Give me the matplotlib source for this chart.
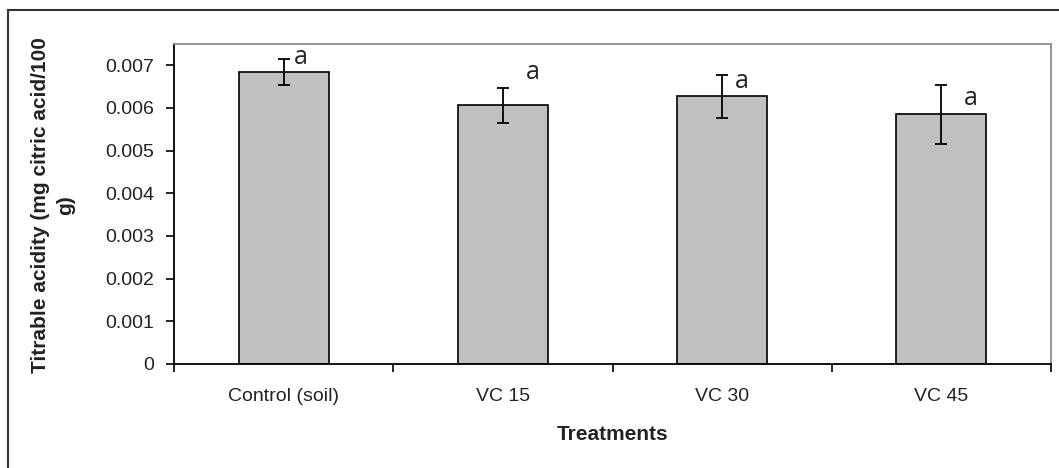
import numpy as np
import matplotlib
matplotlib.use("Agg")
import matplotlib.pyplot as plt
from matplotlib.patches import Rectangle

# values
treatments = ['Control (soil)', 'VC 15', 'VC 30', 'VC 45']
acidity = [0.00685, 0.00606, 0.00627, 0.00585]
acidity_err = [0.00030, 0.00041, 0.00050, 0.00070]
letters = ['a', 'a', 'a', 'a']
# offset of each letter from the top of its error bar (pixels)
letter_dx = [17, 30, 20, 29]
letter_dy = [1, 15, -6, -14]

plt.rcParams['font.family'] = ['Liberation Sans', 'DejaVu Sans']

fig = plt.figure(figsize=(10.59, 4.68), dpi=100)
ax = fig.add_axes([174/1059, 1 - 364/468, (1051 - 174)/1059, (364 - 44)/468])

x = np.arange(len(treatments))
ax.bar(x, acidity, width=0.41, color='#c0c0c0', edgecolor='black', linewidth=1.2, zorder=2)
ax.errorbar(x, acidity, yerr=acidity_err, fmt='none', ecolor='black',
            elinewidth=1.3, capsize=4.5, capthick=1.3, zorder=3)

for i, lab in enumerate(letters):
	ax.annotate(lab, xy=(x[i], acidity[i] + acidity_err[i]),
	            xytext=(letter_dx[i], letter_dy[i]), textcoords='offset pixels',
	            ha='center', va='center', fontsize=18, family='Open Sans', color='#222222')

ax.set_xlim(-0.5, len(treatments) - 0.5)
ax.set_ylim(0, 0.0075)
ax.set_yticks(np.arange(0, 0.0071, 0.001))
ax.set_yticklabels(['0'] + ['%.3f' % v for v in np.arange(0.001, 0.0071, 0.001)])
ax.set_xticks(x)
ax.set_xticklabels(treatments)
ax.set_xticks(np.arange(-0.5, len(treatments)), minor=True)
ax.tick_params(axis='x', which='major', length=0, pad=17, labelsize=14, labelcolor='#222222')
ax.tick_params(axis='x', which='minor', length=6, width=1.2, direction='out')
ax.tick_params(axis='y', length=6, width=1.2, direction='out', pad=8, labelsize=14, labelcolor='#222222')

for s in ['left', 'bottom']:
	ax.spines[s].set_linewidth(1.3)
	ax.spines[s].set_color('black')
for s in ['top', 'right']:
	ax.spines[s].set_linewidth(1.3)
	ax.spines[s].set_color('#8c8c8c')

fig.text(613/1059, 1 - 435/468, 'Treatments', ha='center', va='center',
         fontsize=15, fontweight='bold', color='#222222')
fig.text(53/1059, 1 - 205/468, 'Titrable acidity (mg citric acid/100\ng)', rotation=90,
         ha='center', va='center', multialignment='center', linespacing=1.35,
         fontsize=15, fontweight='bold', color='#222222')

# outer chart border (cropped on the right and bottom)
fig.patches.append(Rectangle((8/1059, -0.05), 1.2, 1 - 10/468 + 0.05, transform=fig.transFigure,
                             fill=False, edgecolor='#333333', linewidth=1.5))

fig.savefig('out.png', dpi=100)
